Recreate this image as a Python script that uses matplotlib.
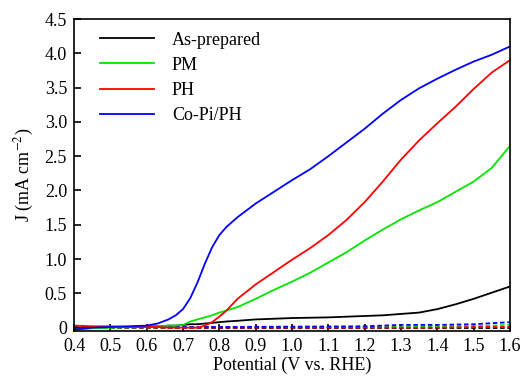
import numpy as np
import matplotlib
matplotlib.use("Agg")
import matplotlib.pyplot as plt

# 光照下的电流
v_light = [0.40, 0.45, 0.50, 0.55, 0.60, 0.63, 0.66, 0.68, 0.70, 0.72, 0.74, 0.76,
           0.78, 0.80, 0.82, 0.85, 0.90, 0.95, 1.00, 1.05, 1.10, 1.15, 1.20, 1.25,
           1.30, 1.35, 1.40, 1.45, 1.50, 1.55, 1.60]
j_asprep = [-0.01, 0.00, 0.01, 0.01, 0.02, 0.02, 0.03, 0.03, 0.04, 0.05, 0.05, 0.06,
            0.07, 0.08, 0.09, 0.10, 0.12, 0.13, 0.14, 0.145, 0.15, 0.16, 0.17, 0.18,
            0.20, 0.22, 0.27, 0.34, 0.42, 0.51, 0.60]
j_pm = [-0.03, -0.01, 0.00, 0.01, 0.02, 0.02, 0.03, 0.03, 0.04, 0.09, 0.12, 0.15,
        0.18, 0.22, 0.25, 0.30, 0.42, 0.55, 0.67, 0.80, 0.95, 1.10, 1.27, 1.43,
        1.58, 1.71, 1.83, 1.98, 2.13, 2.33, 2.65]
j_ph = [0.03, 0.02, 0.02, 0.01, 0.01, 0.01, 0.00, 0.00, 0.00, 0.00, 0.00, 0.03,
        0.08, 0.16, 0.25, 0.42, 0.63, 0.81, 0.99, 1.16, 1.35, 1.57, 1.83, 2.13,
        2.45, 2.73, 2.98, 3.22, 3.48, 3.72, 3.90]
j_copi = [-0.03, 0.00, 0.01, 0.02, 0.03, 0.06, 0.12, 0.18, 0.27, 0.43, 0.66, 0.93,
          1.17, 1.35, 1.47, 1.61, 1.81, 1.98, 2.15, 2.31, 2.50, 2.70, 2.90, 3.12,
          3.32, 3.49, 3.63, 3.76, 3.88, 3.98, 4.10]

# 暗电流 (虚线)
v_dark = [0.40, 0.60, 0.80, 1.00, 1.20, 1.30, 1.40, 1.50, 1.60]
jd_asprep = [0.00, 0.00, 0.00, 0.00, 0.00, 0.00, 0.00, 0.00, 0.00]
jd_pm = [0.00, 0.00, 0.01, 0.01, 0.01, 0.01, 0.02, 0.02, 0.04]
jd_ph = [0.01, 0.00, 0.00, 0.00, 0.00, 0.00, 0.00, 0.01, 0.01]
jd_copi = [0.01, 0.01, 0.01, 0.015, 0.02, 0.04, 0.04, 0.05, 0.08]

labels = ["As-prepared", "PM", "PH", "Co-Pi/PH"]
colors = ["black", "#00e600", "red", "blue"]

x_ticks = [0.4, 0.5, 0.6, 0.7, 0.8, 0.9, 1.0, 1.1, 1.2, 1.3, 1.4, 1.5, 1.6]
y_ticks = [0, 0.5, 1.0, 1.5, 2.0, 2.5, 3.0, 3.5, 4.0, 4.5]
y_ticklabels = ["0", "0.5", "1.0", "1.5", "2.0", "2.5", "3.0", "3.5", "4.0", "4.5"]


def main():
    plt.rcParams["font.family"] = ["Liberation Serif", "DejaVu Serif"]
    plt.rcParams["font.size"] = 13
    plt.rcParams["mathtext.fontset"] = "stix"

    fig = plt.figure(figsize=(5.23, 3.81), dpi=100)
    ax = fig.add_axes([0.1415, 0.131, 0.8335, 0.819])

    light = [j_asprep, j_pm, j_ph, j_copi]
    dark = [jd_asprep, jd_pm, jd_ph, jd_copi]
    for jd, c in zip(dark, colors):
        ax.plot(v_dark, jd, color=c, lw=1.3, ls=(0, (2.5, 1.5)))
    for j, c, lab in zip(light, colors, labels):
        ax.plot(v_light, j, color=c, lw=1.3, label=lab)

    ax.set_xlim(0.4, 1.6)
    ax.set_ylim(-0.05, 4.5)
    ax.set_xticks(x_ticks)
    ax.set_xticklabels([f"{t:.1f}" for t in x_ticks])
    ax.set_yticks(y_ticks)
    ax.set_yticklabels(y_ticklabels)
    ax.tick_params(direction="in", length=5, width=1.2, top=False, right=False, pad=5)
    for s in ax.spines.values():
        s.set_linewidth(1.2)

    ax.set_xlabel("Potential (V vs. RHE)", labelpad=1)
    ax.set_ylabel("J (mA cm$^{-2}$)", labelpad=6)

    ax.legend(loc="upper left", frameon=False, handlelength=3.0, handletextpad=1.0,
              labelspacing=0.45, borderaxespad=0.3, bbox_to_anchor=(0.03, 1.0))

    fig.savefig("out.png", dpi=100)


if __name__ == "__main__":
    main()
